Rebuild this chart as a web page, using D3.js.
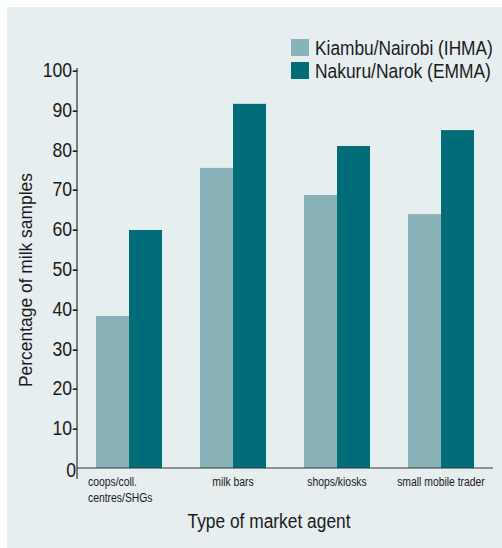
<!DOCTYPE html>
<html><head><meta charset="utf-8">
<script src="https://cdn.jsdelivr.net/npm/d3@7"></script>
<style>
html,body{margin:0;padding:0;background:#fff;}
svg{display:block;}
text{font-family:"Liberation Sans",Arial,sans-serif;fill:#1a1a1a;}
</style></head>
<body>
<svg id="c" width="502" height="548"></svg>
<script>
const categories = [["coops/coll.","centres/SHGs"],["milk bars"],["shops/kiosks"],["small mobile trader"]];
const seriesNames = ["Kiambu/Nairobi (IHMA)","Nakuru/Narok (EMMA)"];
const ihma = [38.2, 75.4, 68.6, 63.8];
const emma = [59.8, 91.5, 80.9, 84.9];
const yTicks = [0,10,20,30,40,50,60,70,80,90,100];
const colors = ["#89b3b9","#006d79"];

function condense(sel, k){
  sel.each(function(){
    const w = this.getComputedTextLength();
    d3.select(this).attr("textLength", w*k).attr("lengthAdjust","spacingAndGlyphs");
  });
}

const svg = d3.select("#c");
svg.append("rect").attr("x",7).attr("y",7).attr("width",495).attr("height",541).attr("fill","#e6eef0");

const x = d3.scaleBand().domain(d3.range(categories.length)).range([77,493]).paddingInner(0.365).paddingOuter(0.1825);
const xs = d3.scaleBand().domain([0,1]).range([0,x.bandwidth()]);
const y = d3.scaleLinear().domain([0,100]).range([468,70]);

const series = [ihma, emma];
series.forEach((vals,si)=>{
  svg.append("g").selectAll("rect").data(vals).join("rect")
    .attr("x",(d,i)=>x(i)+xs(si))
    .attr("width",xs.bandwidth())
    .attr("y",d=>y(d))
    .attr("height",d=>y(0)-y(d))
    .attr("fill",colors[si]);
});

// axes
svg.append("line").attr("x1",77).attr("x2",77).attr("y1",68).attr("y2",479).attr("stroke","#333").attr("stroke-width",1.2);
svg.append("line").attr("x1",77).attr("x2",493).attr("y1",y(0)).attr("y2",y(0)).attr("stroke","#333").attr("stroke-width",1.2);

const tl = svg.append("g").selectAll("text").data(yTicks).join("text")
  .attr("x",d=>d===0?76:78)
  .attr("y",d=>y(d)+ (d===0?9:7))
  .attr("text-anchor","end")
  .attr("font-size",20.5)
  .text(d=>d===0?"0":d+"-");
condense(tl,0.86);

// category labels
categories.forEach((lines,i)=>{
  const multi = lines.length>1;
  lines.forEach((l,j)=>{
    const t = svg.append("text")
      .attr("font-size",12.5)
      .attr("text-anchor",multi?"start":"middle")
      .attr("x",multi? x(i)-8 : x(i)+x.bandwidth()/2)
      .attr("y",486+j*16).text(l);
    condense(t,0.83);
  });
});

const xt = svg.append("text").attr("x",269).attr("y",528).attr("text-anchor","middle").attr("font-size",19.5).text("Type of market agent");
xt.attr("textLength",163).attr("lengthAdjust","spacingAndGlyphs");
const yt = svg.append("text").attr("transform","translate(32,280) rotate(-90)").attr("text-anchor","middle").attr("font-size",19).text("Percentage of milk samples");
yt.attr("textLength",214).attr("lengthAdjust","spacingAndGlyphs");

// legend
const lg = svg.append("g");
seriesNames.forEach((n,i)=>{
  lg.append("rect").attr("x",291).attr("y",39+i*23).attr("width",18).attr("height",17).attr("fill",colors[i]);
  const t = lg.append("text").attr("x",0).attr("y",0).attr("font-size",19.5).text(n);
  const w = t.node().getComputedTextLength();
  const target = i===0 ? 178 : 176;
  t.attr("transform",`translate(315,${55+i*23}) scale(${target/w},1)`);
});
</script>
</body></html>
